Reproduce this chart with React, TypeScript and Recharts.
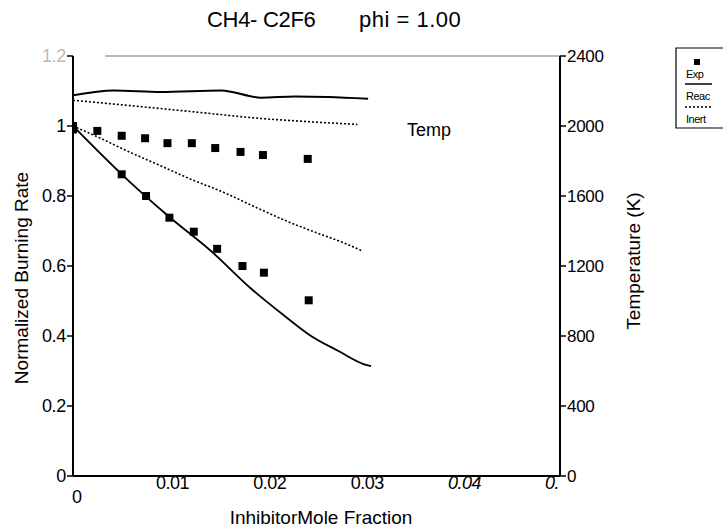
import React from "react";
import {
  ComposedChart,
  Line,
  Scatter,
  XAxis,
  YAxis,
  ReferenceLine,
} from "recharts";

// burning rate, experiments (two sets)
const expHighX = [0, 0.0025, 0.005, 0.0074, 0.0097, 0.0122, 0.0146, 0.0172, 0.0195, 0.0241];
const expHighRate = [0.99, 0.986, 0.972, 0.965, 0.951, 0.951, 0.937, 0.926, 0.917, 0.906];
const expLowX = [0, 0.005, 0.0075, 0.0099, 0.0124, 0.0148, 0.0174, 0.0196, 0.0242];
const expLowRate = [1.0, 0.862, 0.8, 0.738, 0.698, 0.649, 0.6, 0.581, 0.502];

// burning rate, models
const reacX = [0, 0.005, 0.0099, 0.0142, 0.0183, 0.0217, 0.0244, 0.0272, 0.0299, 0.0306];
const reacRate = [1.0, 0.862, 0.74, 0.642, 0.535, 0.458, 0.401, 0.358, 0.319, 0.314];
const inertX = [0, 0.0029, 0.0053, 0.0087, 0.0121, 0.0155, 0.0189, 0.0224, 0.0251, 0.0279, 0.0297];
const inertRate = [1.0, 0.964, 0.932, 0.89, 0.848, 0.81, 0.766, 0.723, 0.694, 0.665, 0.643];

// flame temperature (K), models
const reacTempX = [0, 0.0042, 0.009, 0.0152, 0.0193, 0.0228, 0.0262, 0.0303];
const reacTemp = [2175, 2203, 2194, 2203, 2162, 2169, 2166, 2156];
const inertTempX = [0, 0.0056, 0.0124, 0.0193, 0.0244, 0.0292];
const inertTemp = [2147, 2118, 2081, 2043, 2024, 2009];

const xTicks = [0, 0.01, 0.02, 0.03, 0.04, 0.05];
const xTickLabels = ["0", "0.01", "0.02", "0.03", "0.04", "0."];
const rateTicks = [0, 0.2, 0.4, 0.6, 0.8, 1, 1.2];
const rateTickLabels = ["0", "0.2", "0.4", "0.6", "0.8", "1", "1.2"];
const tempTicks = [0, 400, 800, 1200, 1600, 2000, 2400];

const zip = (xs: number[], ys: number[], key: string) =>
  xs.map((x, i) => ({ x, [key]: ys[i] }));

const FONT = "'Liberation Sans', Arial, Helvetica, sans-serif";

const XTick = (props: any) => {
  const { x, y, payload, index } = props;
  const i = xTicks.indexOf(payload.value);
  const label = xTickLabels[i >= 0 ? i : index];
  if (payload.value === 0) {
    return (
      <text x={x + 4} y={y + 27} textAnchor="middle" fontSize={18} fill="#000" fontFamily={FONT}>
        {label}
      </text>
    );
  }
  const italic = payload.value >= 0.04;
  const last = payload.value === 0.05;
  return (
    <text
      x={last ? x - 1 : x + 2}
      y={y + 13}
      textAnchor={last ? "end" : "middle"}
      fontSize={18}
      fontStyle={italic ? "italic" : "normal"}
      fill="#000"
      fontFamily={FONT}
      letterSpacing={-0.5}
    >
      {label}
    </text>
  );
};

const RateTick = (props: any) => {
  const { x, y, payload } = props;
  const i = rateTicks.indexOf(payload.value);
  const top = payload.value === 1.2;
  return (
    <text
      x={x}
      y={y + 6}
      textAnchor="end"
      fontSize={18}
      fill={top ? "#bbb" : "#000"}
      fontFamily={FONT}
      letterSpacing={-0.3}
    >
      {rateTickLabels[i]}
    </text>
  );
};

const Legend = () => (
  <svg
    width={60}
    height={100}
    style={{ position: "absolute", left: 670, top: 42 }}
  >
    <polyline points="60,6 6,6 6,86 60,86" fill="none" stroke="#000" strokeWidth={1.2} />
    <rect x={24} y={17} width={6} height={6} fill="#000" />
    <text x={16} y={36} fontSize={11} fontFamily={FONT} letterSpacing={-0.5}>Exp</text>
    <line x1={15} y1={42} x2={42} y2={42} stroke="#000" strokeWidth={1.5} />
    <text x={16} y={58} fontSize={11} fontFamily={FONT} letterSpacing={-0.5}>Reac</text>
    <line x1={15} y1={65} x2={42} y2={65} stroke="#000" strokeWidth={1.5} strokeDasharray="2 2" />
    <text x={16} y={81} fontSize={11} fontFamily={FONT} letterSpacing={-0.5}>Inert</text>
  </svg>
);

export default function App() {
  return (
    <div
      style={{
        position: "absolute",
        left: 0,
        top: 0,
        width: 723,
        height: 532,
        background: "#fff",
        fontFamily: FONT,
        color: "#000",
      }}
    >
      <div style={{ position: "absolute", left: 207, top: 7, fontSize: 22, whiteSpace: "pre", letterSpacing: -0.3 }}>
        CH4- C2F6
      </div>
      <div style={{ position: "absolute", left: 359, top: 7, fontSize: 22, whiteSpace: "pre", letterSpacing: 0.5 }}>
        phi = 1.00
      </div>
      <ComposedChart
        width={723}
        height={532}
        margin={{ top: 56, right: 103, bottom: 26, left: 13 }}
      >
        <XAxis
          type="number"
          dataKey="x"
          domain={[0, 0.05]}
          ticks={xTicks}
          tick={<XTick />}
          tickLine={false}
          tickSize={0}
          tickMargin={0}
          height={30}
          axisLine={{ stroke: "#000", strokeWidth: 2 }}
          allowDataOverflow
        />
        <YAxis
          yAxisId="rate"
          type="number"
          domain={[0, 1.2]}
          ticks={rateTicks}
          tick={<RateTick />}
          width={60}
          tickSize={6}
          tickMargin={1}
          tickLine={{ stroke: "#000", strokeWidth: 1.5 }}
          axisLine={{ stroke: "#000", strokeWidth: 2 }}
        />
        <YAxis
          yAxisId="temp"
          orientation="right"
          type="number"
          domain={[0, 2400]}
          ticks={tempTicks}
          width={60}
          tickSize={6}
          tickMargin={1}
          tick={{ fill: "#000", fontSize: 17, fontFamily: FONT, letterSpacing: -0.3 }}
          tickLine={{ stroke: "#000", strokeWidth: 1.5 }}
          axisLine={{ stroke: "#000", strokeWidth: 2 }}
        />
        <ReferenceLine
          yAxisId="temp"
          segment={[{ x: 0.0033, y: 2400 }, { x: 0.05, y: 2400 }]}
          stroke="#777"
          strokeWidth={1.2}
        />
        <Line
          yAxisId="temp"
          data={zip(reacTempX, reacTemp, "t")}
          dataKey="t"
          type="monotone"
          stroke="#000"
          strokeWidth={2}
          dot={false}
          isAnimationActive={false}
        />
        <Line
          yAxisId="temp"
          data={zip(inertTempX, inertTemp, "t")}
          dataKey="t"
          type="monotone"
          stroke="#000"
          strokeWidth={1.6}
          strokeDasharray="2 2"
          dot={false}
          isAnimationActive={false}
        />
        <Line
          yAxisId="rate"
          data={zip(reacX, reacRate, "r")}
          dataKey="r"
          type="monotone"
          stroke="#000"
          strokeWidth={1.8}
          dot={false}
          isAnimationActive={false}
        />
        <Line
          yAxisId="rate"
          data={zip(inertX, inertRate, "r")}
          dataKey="r"
          type="monotone"
          stroke="#000"
          strokeWidth={1.6}
          strokeDasharray="2 2"
          dot={false}
          isAnimationActive={false}
        />
        <Scatter
          yAxisId="rate"
          data={zip(expHighX, expHighRate, "r")}
          dataKey="r"
          shape="square"
          fill="#000"
          isAnimationActive={false}
        />
        <Scatter
          yAxisId="rate"
          data={zip(expLowX, expLowRate, "r")}
          dataKey="r"
          shape="square"
          fill="#000"
          isAnimationActive={false}
        />
      </ComposedChart>
      <div
        style={{
          position: "absolute",
          left: 22,
          top: 278,
          fontSize: 19,
          whiteSpace: "nowrap",
          transform: "translate(-50%, -50%) rotate(-90deg)",
        }}
      >
        Normalized Burning Rate
      </div>
      <div
        style={{
          position: "absolute",
          left: 634,
          top: 261,
          fontSize: 19,
          whiteSpace: "nowrap",
          transform: "translate(-50%, -50%) rotate(-90deg)",
        }}
      >
        Temperature (K)
      </div>
      <div
        style={{
          position: "absolute",
          left: 321,
          top: 518,
          fontSize: 19,
          whiteSpace: "nowrap",
          transform: "translate(-50%, -50%)",
        }}
      >
        InhibitorMole Fraction
      </div>
      <div style={{ position: "absolute", left: 407, top: 120, fontSize: 18 }}>Temp</div>
      <Legend />
    </div>
  );
}
